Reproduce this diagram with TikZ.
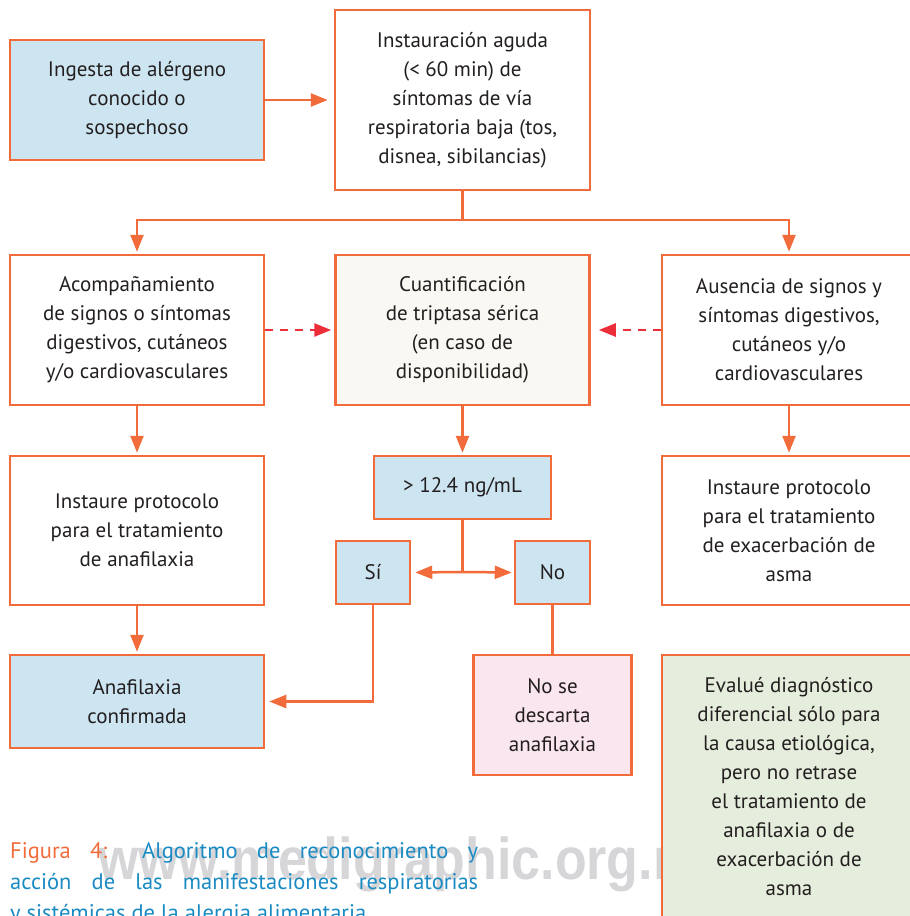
\documentclass[tikz,border=0pt]{standalone}
\usepackage{fontspec}
\setmainfont{PT Sans}
\newfontfamily\wmfont{Liberation Sans}
\usetikzlibrary{arrows.meta}
\definecolor{corange}{HTML}{F26B3A}
\definecolor{cred}{HTML}{EC2D3A}
\definecolor{cblue}{HTML}{CDE5F1}
\definecolor{ccream}{HTML}{FAF8F3}
\definecolor{cpink}{HTML}{F9E6EE}
\definecolor{cgreen}{HTML}{E5EEDC}
\definecolor{ctext}{HTML}{231F20}
\definecolor{ccap}{HTML}{1A8AC3}
\definecolor{cwm}{HTML}{D6D6D9}
\begin{document}
\begin{tikzpicture}[x=1pt,y=-1pt,
  box/.style={draw=corange, line width=2.5pt, align=center, inner sep=0pt, text=ctext,
    font=\fontsize{21}{29}\selectfont},
  conn/.style={draw=corange, line width=2.5pt},
  arr/.style={conn, -{Triangle[length=17pt,width=13pt]}},
  darr/.style={draw=cred, line width=2.5pt, dash pattern=on 8pt off 7pt, -{Triangle[length=17pt,width=13pt]}},
  captext/.style={anchor=base west, inner sep=0pt, text=ccap, font=\fontsize{22.5}{31}\selectfont},
]
\path[use as bounding box] (0,0) rectangle (910,916);
\clip (0,0) rectangle (910,916);

% watermark
\node[anchor=base west, inner sep=0pt, text=cwm, font=\wmfont\bfseries\fontsize{59}{59}\selectfont]
  (wm) at (98,879) {\scalebox{0.88}[1]{www.medigraphic.org.mx}};

% boxes
\node[box, fill=cblue, minimum width=254pt, minimum height=120pt] (A) at (137,100)
  {Ingesta de alérgeno\\conocido o\\sospechoso};
\node[box, fill=white, minimum width=255pt, minimum height=180pt] (B) at (462.5,100)
  {Instauración aguda\\(< 60 min) de\\síntomas de vía\\respiratoria baja (tos,\\disnea, sibilancias)};
\node[box, fill=white, minimum width=254pt, minimum height=150pt] (C) at (137,330)
  {Acompañamiento\\de signos o síntomas\\digestivos, cutáneos\\y/o cardiovasculares};
\node[box, fill=ccream, minimum width=254pt, minimum height=150pt] (D) at (462.5,330)
  {Cuantificación\\de triptasa sérica\\(en caso de\\disponibilidad)};
\node[box, fill=white, minimum width=254pt, minimum height=150pt] (E) at (789,330)
  {Ausencia de signos y\\síntomas digestivos,\\cutáneos y/o\\cardiovasculares};
\node[box, fill=white, minimum width=254pt, minimum height=149pt] (F) at (137,530.5)
  {Instaure protocolo\\para el tratamiento\\de anafilaxia};
\node[box, fill=cblue, minimum width=177pt, minimum height=63pt] (G) at (462.5,487.5)
  {> 12.4 ng/mL};
\node[box, fill=cblue, minimum width=74pt, minimum height=63pt] (Si) at (373,572.5) {Sí};
\node[box, fill=cblue, minimum width=75pt, minimum height=63pt] (No) at (552.5,572.5) {No};
\node[box, fill=white, minimum width=254pt, minimum height=149pt] (J) at (789,530.5)
  {Instaure protocolo\\para el tratamiento\\de exacerbación de\\asma};
\node[box, fill=cblue, minimum width=254pt, minimum height=93pt] (H) at (137,701.5)
  {Anafilaxia\\confirmada};
\node[box, fill=cpink, minimum width=158pt, minimum height=120pt] (I) at (552.5,715)
  {No se\\descarta\\anafilaxia};
\node[box, fill=cgreen, minimum width=254pt, minimum height=263pt] (K) at (789,786.5)
  {Evalué diagnóstico\\diferencial sólo para\\la causa etiológica,\\pero no retrase\\el tratamiento de\\anafilaxia o de\\exacerbación de\\asma};

% connectors
\coordinate (bj) at (462.5,220);
\coordinate (gj) at (462.5,572);
\draw[arr, shorten >=6pt] (A.east) -- (B.west);
\draw[conn] (B.south) -- (bj);
\draw[arr, shorten >=2pt] (bj) -| (C.north);
\draw[arr, shorten >=2pt] (bj) -| (E.north);
\draw[darr, shorten >=3pt] (C.east) -- (D.west);
\draw[darr, shorten >=8pt] (E.west) -- (D.east);
\draw[arr, shorten >=2pt] (C.south) -- (F.north);
\draw[arr, shorten >=2pt] (D.south) -- (G.north);
\draw[arr, shorten >=2pt] (E.south) -- (J.north);
\draw[arr, shorten >=2pt] (F.south) -- (H.north);
\draw[conn] (G.south) -- (gj);
\draw[arr, shorten >=4pt] (gj) -- (Si.east);
\draw[arr, shorten >=2pt] (gj) -- (No.west);
\draw[arr, shorten >=4pt] (Si.south) |- (H.east);
\draw[conn] (No.south) -- (I.north);

% caption
\node[captext] (cap1) at (10,858)
  {\makebox[468pt][s]{\textcolor{corange}{Figura 4:} Algoritmo de reconocimiento y}};
\node[captext] (cap2) at (10,889)
  {\makebox[468pt][s]{acción de las manifestaciones respiratorias}};
\node[captext] (cap3) at (10,920)
  {y sistémicas de la alergia alimentaria};
\end{tikzpicture}
\end{document}
